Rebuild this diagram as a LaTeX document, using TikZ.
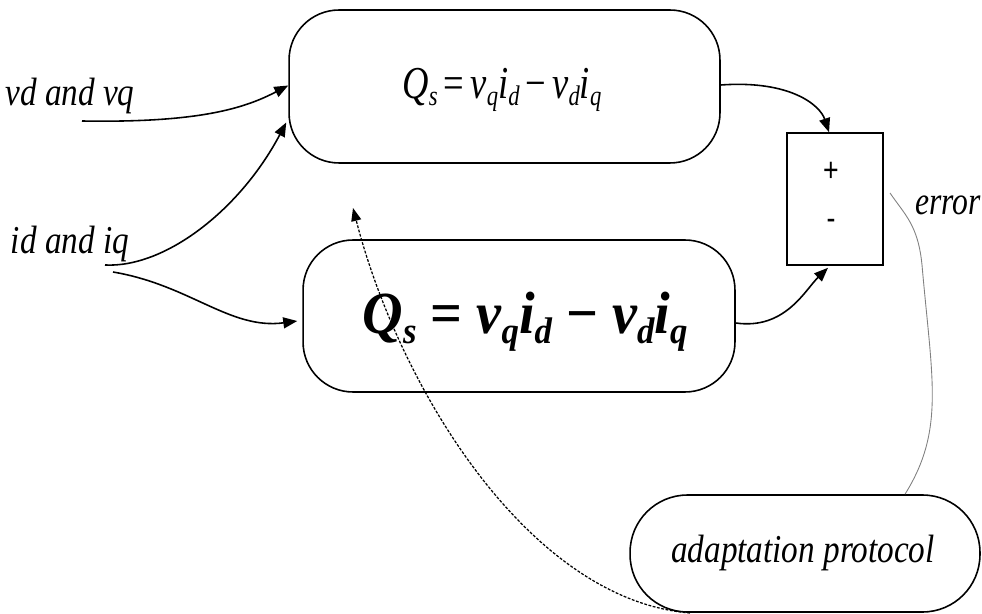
\documentclass[tikz,border=0pt]{standalone}
\usepackage{fontspec}
\setmainfont{Liberation Serif}
\setsansfont{Liberation Sans}
\usetikzlibrary{arrows.meta,calc}
\newcommand{\sbs}[1]{\raisebox{-0.35ex}{\scalebox{0.62}{#1}}}
\newcommand{\narrow}[1]{\scalebox{0.8}[1]{#1}}
\begin{document}
\begin{tikzpicture}[x=0.02cm,y=-0.02cm,
  pill/.style={draw,line width=0.9pt,rounded corners=1cm,inner sep=0pt},
  conn/.style={line width=0.9pt,-{Triangle[length=2.8mm,width=2.2mm]}},
  lbl/.style={font=\fontsize{22.5}{24}\selectfont\itshape,inner sep=0pt}]
\useasboundingbox (0,0) rectangle (982,614);
\node[pill,minimum width=8.62cm,minimum height=3.06cm] (top) at (504.5,86.5) {};
\node[pill,minimum width=8.64cm,minimum height=3.04cm] (bot) at (519,316) {};
\node[draw,line width=0.9pt,minimum width=1.92cm,minimum height=2.64cm,inner sep=0pt] (sum) at (835,199) {};
\node[pill,rounded corners=1.15cm,minimum width=7cm,minimum height=2.34cm] (adapt) at (805,553.5) {};
\node[inner sep=0pt,font=\fontsize{26}{28}\selectfont] (eqa) at (502,90) {\narrow{\itshape Q\sbs{s}\,\upshape=\,\itshape v\sbs{q}i\sbs{d}\,\upshape\textminus\,\itshape v\sbs{d}i\sbs{q}}};
\node[inner sep=0pt,font=\fontsize{34}{36}\selectfont\bfseries\itshape] (eqb) at (525,322) {\scalebox{0.94}[1]{Q\sbs{s}\ \upshape=\ \itshape v\sbs{q}i\sbs{d}\ \upshape\textminus\ \itshape v\sbs{d}i\sbs{q}}};
\node[inner sep=0pt,font=\sffamily\fontsize{19}{21}\selectfont] (plus) at (831,172) {\narrow{+}};
\node[inner sep=0pt,font=\sffamily\fontsize{19}{21}\selectfont] (minus) at (831,224) {\narrow{-}};
\node[lbl] (adtext) at (803,553) {\scalebox{0.84}[1]{adaptation protocol}};
\node[lbl] (vdl) at (70,96) {\scalebox{0.84}[1]{vd and vq}};
\node[lbl] (idl) at (70,244) {\scalebox{0.84}[1]{id and iq}};
\node[lbl] (err) at (948,205) {\narrow{error}};
\coordinate (vds) at (82,121);
\coordinate (ids1) at (105,265);
\coordinate (ids2) at (113,272);
\coordinate (errs) at (890,193);
\coordinate (dashs) at (690,613);
\coordinate (dashe) at (353,208);
\draw[conn] (vds) .. controls (200,123) and (245,108) .. ([yshift=0.02cm]top.west);
\draw[conn] (ids1) .. controls (165,268) and (240,210) .. ([xshift=-0.04cm,yshift=-0.72cm]top.west);
\draw[conn] (ids2) .. controls (190,285) and (230,330) .. ([xshift=-0.1cm,yshift=-0.1cm]bot.west);
\draw[conn] ([yshift=0.03cm]top.east) .. controls (790,80) and (820,105) .. ([xshift=-0.12cm]sum.north);
\draw[conn] ([yshift=-0.14cm]bot.east) .. controls (785,330) and (805,290) .. ([xshift=-0.14cm,yshift=-0.04cm]sum.south);
\draw[gray,line width=0.5pt] (errs) .. controls (905,215) and (918,225) .. (922,265) .. controls (932,380) and (945,430) .. ([xshift=2cm]adapt.north);
\draw[line width=0.7pt,dash pattern=on 1.6pt off 0.9pt,-{Triangle[length=2.6mm,width=2mm]}] (dashs) .. controls (530,600) and (400,390) .. (dashe);
\end{tikzpicture}
\end{document}
